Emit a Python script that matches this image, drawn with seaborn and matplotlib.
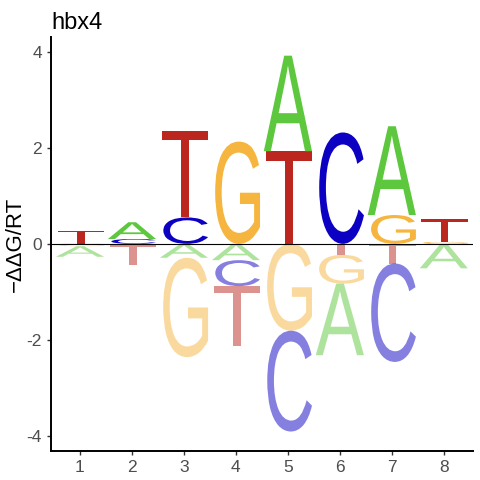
import numpy as np
import pandas as pd
import matplotlib
matplotlib.use("Agg")
import matplotlib.pyplot as plt
import seaborn as sns
from matplotlib.textpath import TextPath
from matplotlib.font_manager import FontProperties
from matplotlib.patches import PathPatch
from matplotlib.path import Path

# ---- data ----
positions = [1, 2, 3, 4, 5, 6, 7, 8]
A = [-0.22, 0.35, -0.29, -0.34, 1.99, -1.49, 1.85, -0.50]
C = [-0.01, 0.10, 0.55, -0.54, -2.10, 2.32, -2.05, -0.01]
G = [-0.04, -0.01, -2.07, 2.13, -1.81, -0.60, 0.60, 0.04]
T = [0.27, -0.44, 1.81, -1.25, 1.93, -0.23, -0.41, 0.47]
title = "hbx4"
ylabel = "\u2212\u0394\u0394G/RT"
yticks = [-4, -2, 0, 2, 4]

colors = {"A": "#5DC83D", "C": "#0C00C2", "G": "#F5B53F", "T": "#BB271F"}

df = pd.DataFrame({"pos": positions, "A": A, "C": C, "G": G, "T": T})
long = df.melt(id_vars="pos", var_name="letter", value_name="val")

sns.set_style("ticks")
plt.rcParams["font.family"] = ["Liberation Sans", "DejaVu Sans"]
plt.rcParams["axes.unicode_minus"] = False

fig = plt.figure(figsize=(4.8, 4.8), dpi=100)
ax = fig.add_axes([0.106, 0.06, 0.879, 0.863])

fp = FontProperties(family="Liberation Sans", weight="normal")
glyphs = {}
for L in "ACGT":
    tp = TextPath((0, 0), L, size=1, prop=fp)
    v = tp.vertices
    xmin, ymin = v.min(axis=0)
    xmax, ymax = v.max(axis=0)
    nv = (v - [xmin, ymin]) / [xmax - xmin, ymax - ymin]
    glyphs[L] = (nv, tp.codes)

W = 0.93

def draw_letter(L, xc, y0, h, alpha):
    nv, codes = glyphs[L]
    verts = np.column_stack([xc - W / 2 + nv[:, 0] * W, y0 + nv[:, 1] * h])
    p = PathPatch(Path(verts, codes), facecolor=colors[L], edgecolor="none",
                  alpha=alpha, lw=0)
    ax.add_patch(p)

for pos, grp in long.groupby("pos"):
    pos_part = grp[grp.val > 0].sort_values("val")
    neg_part = grp[grp.val < 0].sort_values("val", ascending=False)
    y = 0.0
    for _, r in pos_part.iterrows():
        draw_letter(r.letter, pos, y, r.val, 1.0)
        y += r.val
    y = 0.0
    for _, r in neg_part.iterrows():
        draw_letter(r.letter, pos, y + r.val, -r.val, 0.5)
        y += r.val

ax.axhline(0, color="black", lw=0.8, zorder=5)

ax.set_xlim(0.44, 8.56)
ax.set_ylim(-4.32, 4.31)
ax.set_xticks(positions)
ax.set_yticks(yticks)
ax.tick_params(axis="both", colors="#333333", labelcolor="#4D4D4D",
               labelsize=12.5, length=3, width=1)
for s in ["left", "bottom"]:
    ax.spines[s].set_linewidth(1.4)
    ax.spines[s].set_color("black")
sns.despine(ax=ax)
ax.set_ylabel(ylabel, fontsize=16, color="black", va="center")
ax.yaxis.set_label_coords(-0.083, 0.5)
ax.set_xlabel("")
ax.set_title(title, loc="left", fontsize=17, color="black", pad=6)

fig.savefig("out.png", dpi=100)
